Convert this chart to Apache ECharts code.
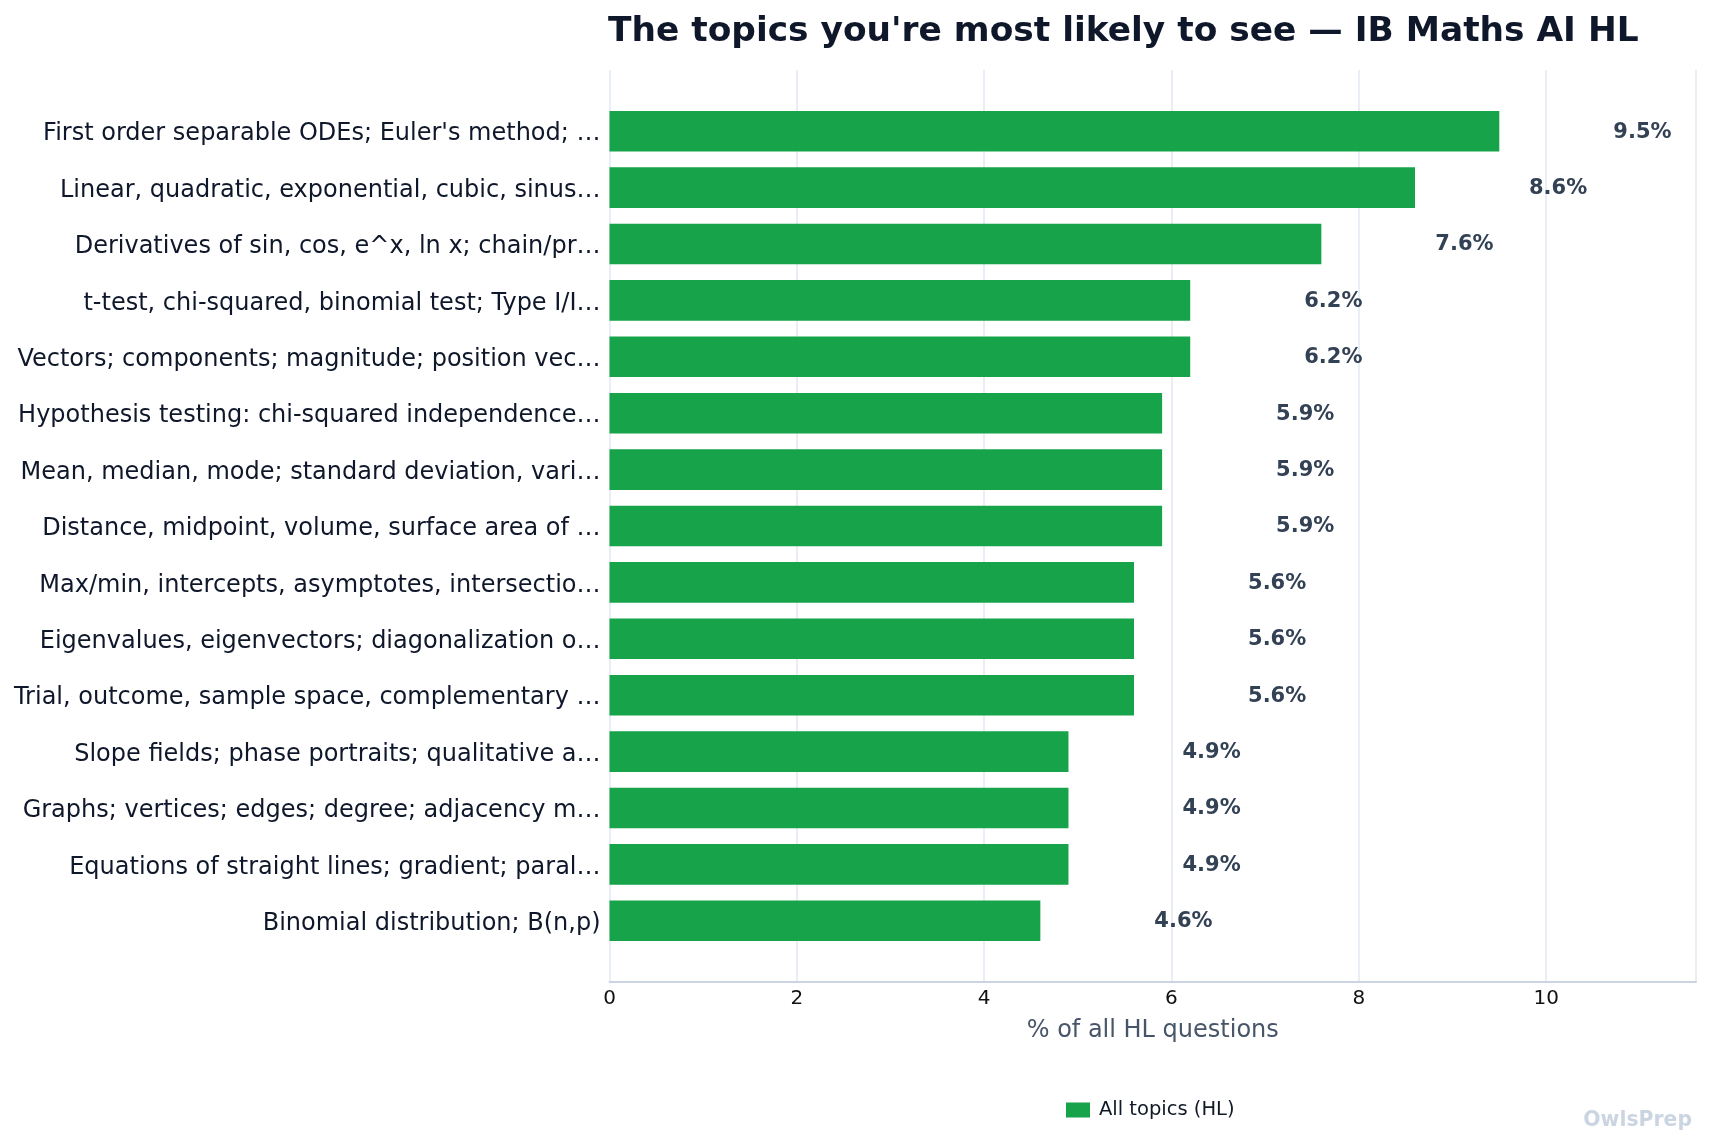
<!DOCTYPE html>
<html>
<head>
<meta charset="utf-8">
<script src="https://cdn.jsdelivr.net/npm/echarts@6/dist/echarts.min.js"></script>
<style>
  html, body { margin: 0; padding: 0; background: #ffffff; }
  #chart { width: 1709px; height: 1145px; }
</style>
</head>
<body>
<div id="chart"></div>
<script>
const titleText = "The topics you're most likely to see \u2014 IB Maths AI HL";
const categories = [
  "First order separable ODEs; Euler's method; \u2026",
  "Linear, quadratic, exponential, cubic, sinus\u2026",
  "Derivatives of sin, cos, e^x, ln x; chain/pr\u2026",
  "t-test, chi-squared, binomial test; Type I/I\u2026",
  "Vectors; components; magnitude; position vec\u2026",
  "Hypothesis testing: chi-squared independence\u2026",
  "Mean, median, mode; standard deviation, vari\u2026",
  "Distance, midpoint, volume, surface area of \u2026",
  "Max/min, intercepts, asymptotes, intersectio\u2026",
  "Eigenvalues, eigenvectors; diagonalization o\u2026",
  "Trial, outcome, sample space, complementary \u2026",
  "Slope fields; phase portraits; qualitative a\u2026",
  "Graphs; vertices; edges; degree; adjacency m\u2026",
  "Equations of straight lines; gradient; paral\u2026",
  "Binomial distribution; B(n,p)"
];
const values = [9.5, 8.6, 7.6, 6.2, 6.2, 5.9, 5.9, 5.9, 5.6, 5.6, 5.6, 4.9, 4.9, 4.9, 4.6];
const seriesName = "All topics (HL)";
const xAxisName = "% of all HL questions";
const watermark = "OwlsPrep";

const FONT = "'DejaVu Sans', sans-serif";
const X_MAX = 11.6;
const chart = echarts.init(document.getElementById('chart'), null, { renderer: 'canvas' });

chart.setOption({
  backgroundColor: '#ffffff',
  animation: false,
  textStyle: { fontFamily: FONT },
  title: {
    text: titleText,
    left: 608,
    top: 15,
    padding: 0,
    textStyle: { fontFamily: FONT, fontSize: 34.4, fontWeight: 'bold', color: '#0f172a' }
  },
  legend: {
    data: [seriesName],
    left: 1066,
    top: 1100,
    itemWidth: 24,
    itemHeight: 15,
    itemGap: 10,
    icon: 'rect',
    padding: 0,
    textStyle: { fontFamily: FONT, fontSize: 19.5, color: '#111827', padding: [0, 0, 0, 4] }
  },
  grid: [
    { left: 609.5, right: 13, top: 70, bottom: 163, containLabel: false },
    { left: 609.5, right: 13, top: 103, bottom: 196, containLabel: false }
  ],
  xAxis: [
    {
      gridIndex: 0, type: 'value', min: 0, max: X_MAX, interval: 2,
      name: xAxisName, nameLocation: 'middle', nameGap: 37,
      nameTextStyle: { fontFamily: FONT, fontSize: 24, color: '#475569' },
      axisLine: { show: true, lineStyle: { color: '#cbd5e1', width: 2 } },
      axisTick: { show: false },
      axisLabel: { show: true, fontFamily: FONT, fontSize: 20, color: '#111111', margin: 7, showMaxLabel: false },
      splitLine: { show: true, lineStyle: { color: '#e2e8f0', width: 1.5 } }
    },
    {
      gridIndex: 1, type: 'value', min: 0, max: X_MAX, interval: 2,
      show: false, splitLine: { show: false }
    }
  ],
  yAxis: [
    { gridIndex: 0, type: 'value', show: false, splitLine: { show: false } },
    {
      gridIndex: 1, type: 'category', data: categories, inverse: true,
      axisLine: { show: false }, axisTick: { show: false },
      axisLabel: {
        fontFamily: FONT, fontSize: 24, color: '#0f172a', margin: 9,
        formatter: v => '{t|' + v + '}',
        rich: { t: { fontFamily: FONT, fontSize: 24, color: '#0f172a', padding: [6, 0, 0, 0] } }
      },
      splitLine: { show: false }
    }
  ],
  series: [
    {
      name: seriesName,
      type: 'bar',
      xAxisIndex: 1,
      yAxisIndex: 1,
      data: values,
      barWidth: '72%',
      itemStyle: { color: '#16a34a' },
      label: {
        show: true,
        position: 'right',
        distance: 114,
        offset: [0, 1],
        formatter: p => p.value.toFixed(1) + '%',
        fontFamily: FONT,
        fontSize: 21,
        fontWeight: 'bold',
        color: '#334155'
      }
    }
  ],
  graphic: [
    {
      type: 'text',
      right: 17,
      top: 1111,
      style: { text: watermark, fontFamily: FONT, fontSize: 20.4, fontWeight: 'bold', fill: '#cbd5e1' }
    }
  ]
});
</script>
</body>
</html>
